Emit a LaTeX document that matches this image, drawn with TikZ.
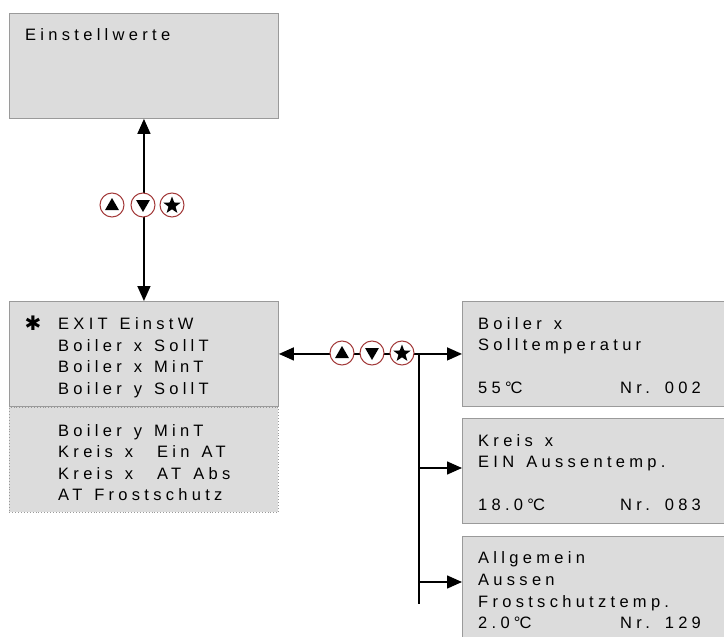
\documentclass[tikz,border=0pt]{standalone}
\usepackage{fontspec}
\setmainfont{Liberation Sans}[LetterSpace=26,WordSpace=1.35]
\newfontfamily\symfont{DejaVu Sans}
\usetikzlibrary{arrows.meta,shapes.geometric}
\definecolor{boxgrey}{HTML}{DCDCDC}
\definecolor{edgegrey}{HTML}{9A9A9A}
\definecolor{ringred}{HTML}{A33A3A}
\newcommand{\degC}{°\kern-1pt C}
\tikzset{
  panel/.style={draw=edgegrey, fill=boxgrey, line width=0.9pt, anchor=north west,
    minimum width=269, minimum height=105, inner sep=0},
  dotpanel/.style={panel, dotted},
  txt/.style={anchor=base west, inner sep=0, font=\fontsize{16.5}{20}\selectfont},
  ring/.style={circle, draw=ringred, fill=white, line width=1pt, minimum size=24, inner sep=0},
  upsym/.style={fill=black, regular polygon, regular polygon sides=3, minimum size=16, inner sep=0},
  downsym/.style={upsym, shape border rotate=180},
  starsym/.style={fill=black, star, star points=5, star point ratio=2.4, minimum size=18, inner sep=0},
  conn/.style={line width=1.5pt},
  tipped/.style={-{Triangle[length=15pt,width=13pt]}},
  bothtipped/.style={{Triangle[length=15pt,width=13pt]}-{Triangle[length=15pt,width=13pt]}}
}
\begin{document}
\begin{tikzpicture}[x=1pt,y=-1pt]
\useasboundingbox (0,0) rectangle (724,637);
\clip (0,0) rectangle (724,637);
\fill[white] (0,0) rectangle (724,637);

% boxes
\node[panel] (b1) at (9,13) {};
\node[panel] (menu) at (9,301) {};
\node[dotpanel] (more) at (9,407) {};
\node[panel] (r1) at (462,301) {};
\node[panel] (r2) at (462,418) {};
\node[panel] (r3) at (462,536) {};
\draw[draw=edgegrey, line width=0.9pt] (menu.south west) -- (menu.south east);

% texts
\node[txt] (t0) at (25,40) {Einstellwerte};
\node[font=\symfont\fontsize{20}{20}\selectfont, inner sep=0] (mstar) at (33,323) {✱};
\node[txt] (m1) at (58,329) {EXIT EinstW};
\node[txt] (m2) at (58,351) {Boiler x SollT};
\node[txt] (m3) at (58,372.5) {Boiler x MinT};
\node[txt] (m4) at (58,394) {Boiler y SollT};
\node[txt] (m5) at (58,436) {Boiler y MinT};
\node[txt] (m6) at (58,457.5) {Kreis x\ \ Ein AT};
\node[txt] (m7) at (58,479) {Kreis x\ \ AT Abs};
\node[txt] (m8) at (58,500.5) {AT Frostschutz};

\node[txt] (r1a) at (478,329) {Boiler x};
\node[txt] (r1b) at (478,350) {Solltemperatur};
\node[txt] (r1c) at (478,393) {55\degC};
\node[txt] (r1d) at (620,393) {Nr. 002};

\node[txt] (r2a) at (478,446) {Kreis x};
\node[txt] (r2b) at (478,467) {EIN Aussentemp.};
\node[txt] (r2c) at (478,510) {18.0\degC};
\node[txt] (r2d) at (620,510) {Nr. 083};

\node[txt] (r3a) at (478,563) {Allgemein};
\node[txt] (r3b) at (478,585) {Aussen};
\node[txt] (r3c) at (478,607) {Frostschutztemp.};
\node[txt] (r3d) at (478,628) {2.0\degC};
\node[txt] (r3e) at (620,628) {Nr. 129};

% connectors
\draw[conn, bothtipped] (b1.south) -- (menu.north);
\draw[conn, bothtipped] (menu.east) -- (r1.west);
\coordinate (jtop) at (419,353);
\coordinate (jbot) at (419,604);
\coordinate (a2) at (419,468);
\coordinate (a3) at (419,582);
\draw[conn] (jtop) -- (jbot);
\draw[conn, tipped] (a2) -- (a2 -| r2.west);
\draw[conn, tipped] (a3) -- (a3 -| r3.west);

% key rings
\node[ring] (v1) at (112,205) {};
\node[ring] (v2) at (143,205) {};
\node[ring] (v3) at (172,205) {};
\node[upsym] (v1s) at (112,206) {};
\node[downsym] (v2s) at (143,204) {};
\node[starsym] (v3s) at (172,205.5) {};

\node[ring] (h1) at (342,353) {};
\node[ring] (h2) at (372,353) {};
\node[ring] (h3) at (402,353) {};
\node[upsym] (h1s) at (342,354) {};
\node[downsym] (h2s) at (372,352) {};
\node[starsym] (h3s) at (402,353.5) {};
\end{tikzpicture}
\end{document}
